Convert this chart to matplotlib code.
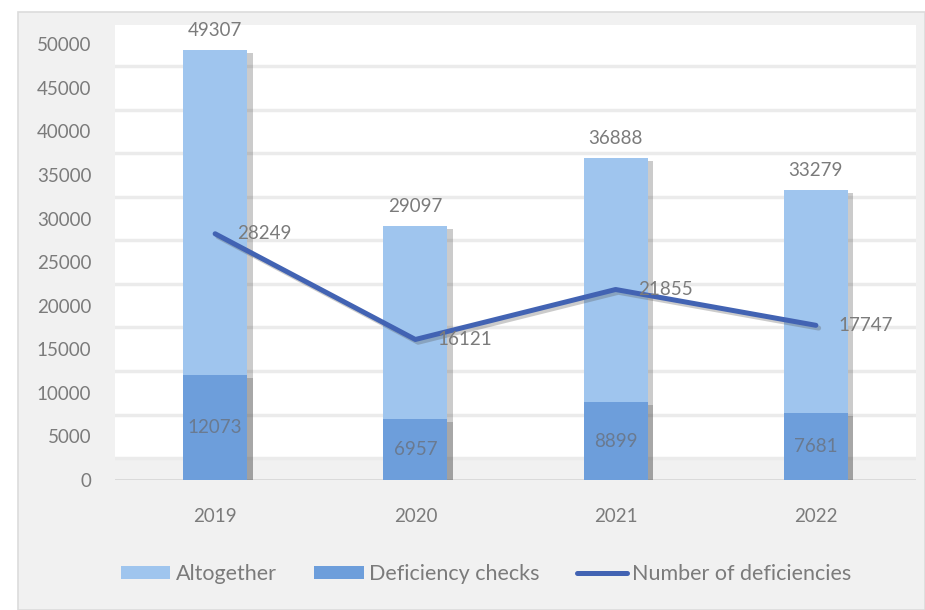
import matplotlib
matplotlib.use("Agg")
import matplotlib.pyplot as plt
import matplotlib.patheffects as pe
from matplotlib.patches import Rectangle, Patch
from matplotlib.lines import Line2D
import numpy as np

years = ["2019", "2020", "2021", "2022"]
altogether = [49307, 29097, 36888, 33279]
deficiency_checks = [12073, 6957, 8899, 7681]
num_deficiencies = [28249, 16121, 21855, 17747]
y_ticks = [0, 5000, 10000, 15000, 20000, 25000, 30000, 35000, 40000, 45000, 50000]

plt.rcParams['font.family'] = ['Lato', 'DejaVu Sans']
TXT = '#7b7b7b'
C_ALL = '#9fc5ee'
C_DEF = '#6d9edb'
C_LINE = '#4263b3'
FS = 13.5

fig = plt.figure(figsize=(9.25, 6.1), dpi=100, facecolor='white')
# chart area background
fig.patches.append(Rectangle((18/925, 0), 1 - 18/925, (610-12)/610, transform=fig.transFigure,
                             facecolor='#f1f1f1', edgecolor='#dcdcdc', linewidth=1.2, zorder=-10))

ax = fig.add_axes([115/925, 130/610, (916-115)/925, (480-25)/610])
ax.set_facecolor('white')
ax.set_ylim(0, 52200)
ax.set_xlim(-0.5, 3.5)
x = np.arange(len(years))

# floor band and offset gridlines (3D-look)
ax.axhspan(0, 2500, color='#f1f1f1', zorder=0.5, lw=0)
for g in np.arange(2500, 50000, 5000):
    ax.axhline(g, color='#ebebeb', lw=2.5, zorder=0.6)
ax.axhline(0, color='#d6d6d6', lw=1.2, zorder=0.7)

shadow = [pe.SimplePatchShadow(offset=(4, -2), shadow_rgbFace='#555555', alpha=0.3), pe.Normal()]
bw = 0.32
b1 = ax.bar(x, altogether, width=bw, color=C_ALL, zorder=2)
b2 = ax.bar(x, deficiency_checks, width=bw, color=C_DEF, zorder=3)
for b in list(b1) + list(b2):
    b.set_path_effects(shadow)

ax.plot(x, num_deficiencies, color=C_LINE, lw=3.6, zorder=4, solid_capstyle='round',
        path_effects=[pe.SimpleLineShadow(offset=(2, -2), shadow_color='#555555', alpha=0.3), pe.Normal()])

for xi, v in zip(x, altogether):
    ax.annotate(str(v), (xi, v), xytext=(0, 8), textcoords='offset points', ha='center', va='bottom',
                fontsize=FS, color=TXT, zorder=6)
for xi, v in zip(x, deficiency_checks):
    ax.text(xi, v / 2, str(v), ha='center', va='center', fontsize=FS, color='#6a7a90', zorder=6)
for xi, v in zip(x, num_deficiencies):
    ax.annotate(str(v), (xi, v), xytext=(16, 0), textcoords='offset points', ha='left', va='center',
                fontsize=FS, color=TXT, zorder=6)

ax.set_xticks(x)
ax.set_xticklabels(years)
ax.set_yticks(y_ticks)
ax.set_yticklabels([str(t) for t in y_ticks])
ax.tick_params(axis='both', length=0, labelsize=FS, colors=TXT)
ax.tick_params(axis='x', pad=20)
ax.tick_params(axis='y', pad=17)
for s in ax.spines.values():
    s.set_visible(False)

handles = [Patch(facecolor=C_ALL, edgecolor='none'),
           Patch(facecolor=C_DEF, edgecolor='none'),
           Line2D([0], [0], color=C_LINE, lw=3.6, solid_capstyle='round')]
fig.legend(handles=handles, labels=['Altogether', 'Deficiency checks', 'Number of deficiencies'],
           loc='center', bbox_to_anchor=(486/925, 1 - 574/610), ncol=3, frameon=False,
           fontsize=15.5, labelcolor=TXT, handlelength=2.3, handleheight=0.55, handletextpad=0.25,
           columnspacing=1.75)

fig.savefig('out.png', dpi=100, facecolor=fig.get_facecolor())
